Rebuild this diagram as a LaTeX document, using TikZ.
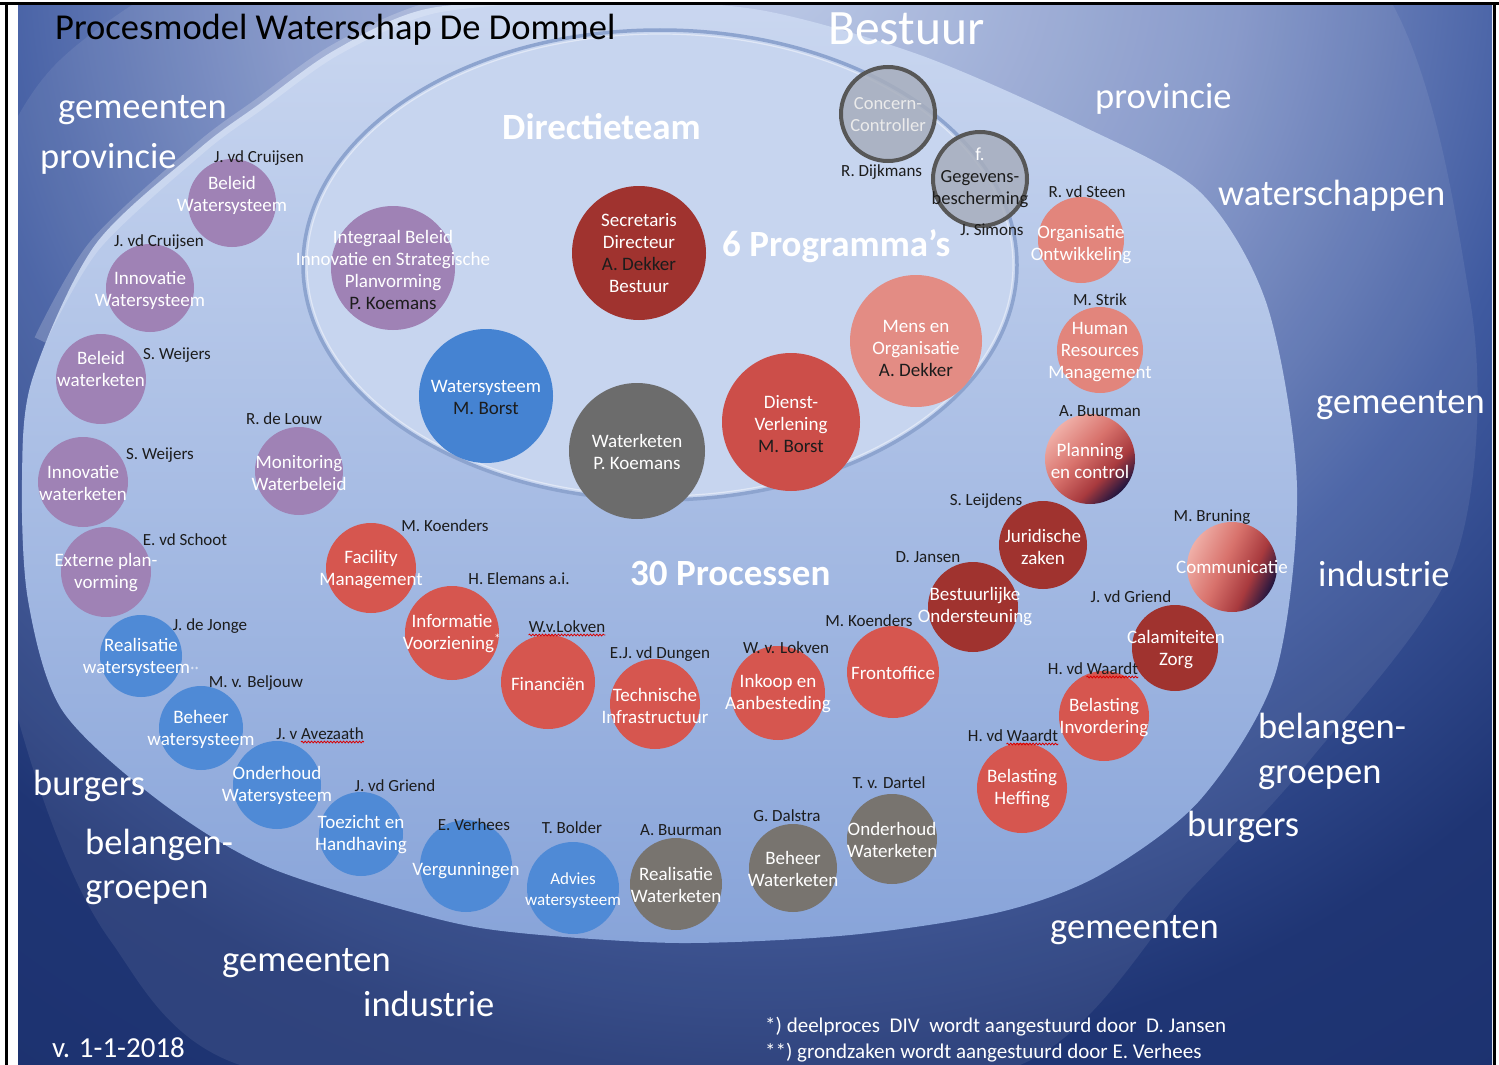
\documentclass[tikz,border=0pt]{standalone}
\usepackage{fontspec}
\setmainfont{Carlito}
\usetikzlibrary{decorations.pathmorphing}
\definecolor{bgA}{HTML}{B9C7E6}
\definecolor{bgB}{HTML}{7F92C6}
\definecolor{bgC}{HTML}{3F5AA0}
\definecolor{bgD}{HTML}{1F3574}
\definecolor{bgE}{HTML}{162A64}
\definecolor{lightTop}{HTML}{CAD7F0}
\definecolor{lightBot}{HTML}{88A4D9}
\definecolor{dirIn}{HTML}{C7D5EF}
\definecolor{dirMid}{HTML}{B2C5E8}
\definecolor{dirOut}{HTML}{9CB2DC}
\definecolor{dirEdge}{HTML}{8DA4CF}
\definecolor{cPurp}{HTML}{9F82B5}
\definecolor{cRed}{HTML}{D6564F}
\definecolor{cRedB}{HTML}{CC4E49}
\definecolor{cDRed}{HTML}{A0332F}
\definecolor{cSalm}{HTML}{E2857C}
\definecolor{cSalmB}{HTML}{E38C84}
\definecolor{cGray}{HTML}{78746F}
\definecolor{cGrayB}{HTML}{6C6C6C}
\definecolor{cBlue}{HTML}{4F8AD6}
\definecolor{cBlueB}{HTML}{4583D2}
\definecolor{cNavy}{HTML}{14123F}
\definecolor{gPink}{HTML}{F3B8B0}
\definecolor{gSalm}{HTML}{D8726C}
\definecolor{gRed}{HTML}{A83A3E}
\definecolor{cBest}{HTML}{A7AEBD}
\definecolor{cBestEdge}{HTML}{575757}
\definecolor{nameCol}{HTML}{1C1C1C}
\pgfdeclareradialshading{bgsh}{\pgfpoint{0bp}{0bp}}{color(0bp)=(bgA); color(12bp)=(bgB); color(20bp)=(bgC); color(28bp)=(bgD); color(50bp)=(bgE)}
\pgfdeclareradialshading{dirsh}{\pgfpoint{0bp}{0bp}}{color(0bp)=(dirIn); color(30bp)=(dirIn); color(46bp)=(dirMid); color(50bp)=(dirOut)}
\pgfdeclarehorizontalshading{gradsh}{100bp}{color(0bp)=(gPink); color(22bp)=(gPink); color(45bp)=(gSalm); color(62bp)=(gRed); color(76bp)=(cNavy); color(100bp)=(cNavy)}
\tikzset{
 blob/.style={circle, inner sep=0pt, minimum size=#1},
 ctext/.style={text=white, align=center, inner sep=0pt, font=\fontsize{19}{22}\selectfont},
 nm/.style={text=nameCol, inner sep=0pt, anchor=base, font=\fontsize{17}{20}\selectfont},
 big/.style={text=white, inner sep=0pt, anchor=base west, font=\fontsize{36.5}{40}\selectfont},
 head/.style={text=white, inner sep=0pt, anchor=base west, font=\fontsize{37}{40}\selectfont\bfseries},
 wave/.style={red!85!black, line width=0.8pt, decorate, decoration={snake, amplitude=0.9pt, segment length=3.2pt}},
 bcirc/.style={circle, inner sep=0pt, minimum size=94pt, fill=cBest, fill opacity=0.85, draw=cBestEdge, draw opacity=1, line width=4pt},
 gradc/.style={circle, inner sep=0pt, minimum size=#1, shade, shading=gradsh},
}
\begin{document}
\begin{tikzpicture}[x=1pt,y=-1pt]
\useasboundingbox (0,0) rectangle (1499,1065);
\fill[white] (0,0) rectangle (1499,1065);
\begin{scope}
 \clip (18,5.5) rectangle (1492,1065);
 \fill[bgE] (18,5.5) rectangle (1492,1065);
 \begin{pgfscope}
  \pgftransformreset
  \pgftransformshift{\pgfpoint{760pt}{50pt}}
  \pgftransformscale{40}
  \pgflowlevelsynccm
  \pgfuseshading{bgsh}
 \end{pgfscope}
 \fill[white, opacity=0.08] plot[smooth cycle] coordinates {(1470,300) (1455,560) (1310,760) (1190,890) (1020,1065) (640,1120) (240,1065) (110,940) (40,790) (-20,560) (-40,300) (60,60) (400,-120) (900,-150) (1350,-50)};
 \shade[top color=lightTop, bottom color=lightBot] plot[smooth cycle] coordinates {(431,8) (600,0) (760,10) (920,55) (1080,125) (1200,192) (1267,305) (1297,488) (1275,675) (1200,800) (1100,875) (1000,912) (850,935) (680,943) (520,933) (430,917) (268,867) (158,800) (62,710) (28,600) (22,480) (32,380) (95,245) (200,148) (258,105) (335,50)};
 \draw[white, opacity=0.2, line width=12pt] plot[smooth] coordinates {(40,340) (95,245) (200,148) (258,105) (335,50) (431,8) (560,-5)};
\end{scope}
% Directieteam ellipse
\shade[shading=dirsh] (660,265) ellipse [x radius=357pt, y radius=235pt];
\draw[dirEdge, line width=3.5pt] (660,265) ellipse [x radius=357pt, y radius=235pt];
\draw[white, opacity=0.45, line width=1.2pt] (660,265) ellipse [x radius=353pt, y radius=231pt];

% outside labels
\node[text=black, inner sep=0pt, anchor=base west, font=\fontsize{36.5}{40}\selectfont] (title) at (55,40) {Procesmodel Waterschap De Dommel};
\node[big] (g1) at (58,118) {gemeenten};
\node[big] (g2) at (40,168) {provincie};
\node[big] (g3) at (1095,108) {provincie};
\node[big] (g4) at (1218,205) {waterschappen};
\node[big] (g5) at (1316,413) {gemeenten};
\node[big] (g6) at (1318,586) {industrie};
\node[big] (g7) at (1258,738) {belangen-};
\node[big] (g8) at (1258,783) {groepen};
\node[big] (g9) at (1187,836) {burgers};
\node[big] (g10) at (1050,938) {gemeenten};
\node[big] (g11) at (33,795) {burgers};
\node[big] (g12) at (85,854) {belangen-};
\node[big] (g13) at (85,898) {groepen};
\node[big] (g14) at (222,971) {gemeenten};
\node[big] (g15) at (363,1016) {industrie};
\node[text=white, inner sep=0pt, anchor=base west, font=\fontsize{49.5}{52}\selectfont] (h1) at (828,45) {Bestuur};
\node[head] (h2) at (502,139) {Directieteam};
\node[head] (h3) at (722,256) {6 Programma’s};
\node[head] (h4) at (630,585) {30 Processen};
\node[text=white, inner sep=0pt, anchor=base west, font=\fontsize{29}{32}\selectfont] (ver) at (52,1057) {v. 1-1-2018};
\node[text=white, inner sep=0pt, anchor=base west, font=\fontsize{21}{24}\selectfont] (fn1) at (765,1032) {*) deelproces\ \ DIV\ \ wordt aangestuurd door\ \ D. Jansen};
\node[text=white, inner sep=0pt, anchor=base west, font=\fontsize{21}{24}\selectfont] (fn2) at (765,1058) {**) grondzaken wordt aangestuurd door E. Verhees};

% program circles
\node[blob=124pt, fill=cPurp] (p1) at (393,268) {};
\node[blob=134pt, fill=cDRed] (p2) at (639,253) {};
\node[blob=132pt, fill=cSalmB] (p3) at (916,341) {};
\node[blob=138pt, fill=cRedB] (p4) at (791,422) {};
\node[blob=134pt, fill=cBlueB] (p5) at (486,396) {};
\node[blob=136pt, fill=cGrayB] (p6) at (637,451) {};
\node[ctext] (tp1) at (393,270) {Integraal Beleid\\Innovatie en Strategische\\Planvorming\\\textcolor{nameCol}{P. Koemans}};
\node[ctext] (tp2) at (639,253) {Secretaris\\Directeur\\\textcolor{nameCol}{A. Dekker}\\Bestuur};
\node[ctext] (tp3) at (916,348) {Mens en\\Organisatie\\\textcolor{nameCol}{A. Dekker}};
\node[ctext] (tp4) at (791,424) {Dienst-\\Verlening\\\textcolor{nameCol}{M. Borst}};
\node[ctext] (tp5) at (486,397) {Watersysteem\\\textcolor{nameCol}{M. Borst}};
\node[ctext] (tp6) at (637,452) {Waterketen\\P. Koemans};

% Bestuur circles
\node[bcirc] (b1) at (888,114) {};
\node[nm, anchor=base west] (nb1) at (841,176) {R. Dijkmans};
\node[bcirc] (b2) at (980,179) {};
\node[ctext, font=\fontsize{18.5}{22}\selectfont, text=white!92!black] (tb1) at (888,115) {Concern-\\Controller};
\node[ctext, font=\fontsize{18.5}{22}\selectfont, text=nameCol] (tb2) at (980,178) {\textcolor{white}{f.}\\Gegevens-\\bescherming};
\node[nm] (nb2) at (992,235) {J. Simons};

% process circles
\node[blob=88pt, fill=cPurp] (c1) at (232,203) {};
\node[blob=88pt, fill=cPurp] (c2) at (150,288) {};
\node[blob=90pt, fill=cPurp] (c3) at (101,379) {};
\node[blob=90pt, fill=cPurp] (c4) at (83,482) {};
\node[blob=90pt, fill=cPurp] (c5) at (106,572) {};
\node[blob=88pt, fill=cPurp] (c6) at (299,471) {};
\node[blob=90pt, fill=cRed] (c7) at (371,568) {};
\node[blob=94pt, fill=cRed] (c8) at (452,633) {};
\node[blob=94pt, fill=cRed] (c9) at (548,682) {};
\node[blob=90pt, fill=cRed] (c10) at (655,704) {};
\node[blob=94pt, fill=cRed] (c11) at (778,693) {};
\node[blob=92pt, fill=cRed] (c12) at (893,672) {};
\node[blob=90pt, fill=cDRed] (c13) at (973,607) {};
\node[blob=88pt, fill=cDRed] (c14) at (1043,545) {};
\node[blob=86pt, fill=cDRed] (c15) at (1175,648) {};
\node[gradc=90pt, shading angle=-45] (c16) at (1090,459) {};
\node[gradc=90pt, shading angle=-25] (c17) at (1232,567) {};
\node[blob=86pt, fill=cSalm] (c18) at (1081,240) {};
\node[blob=86pt, fill=cSalm] (c19) at (1100,350) {};
\node[blob=90pt, fill=cRed] (c20) at (1104,716) {};
\node[blob=90pt, fill=cRed] (c21) at (1022,788) {};
\node[blob=90pt, fill=cGray] (c22) at (892,839) {};
\node[blob=88pt, fill=cGray] (c23) at (793,868) {};
\node[blob=92pt, fill=cGray] (c24) at (676,884) {};
\node[blob=92pt, fill=cBlue] (c25) at (573,888) {};
\node[blob=92pt, fill=cBlue] (c26) at (466,866) {};
\node[blob=84pt, fill=cBlue] (c27) at (361,834) {};
\node[blob=88pt, fill=cBlue] (c28) at (277,785) {};
\node[blob=84pt, fill=cBlue] (c29) at (201,728) {};
\node[blob=82pt, fill=cBlue] (c30) at (141,656) {};

\node[ctext] (t1) at (232,195) {Beleid\\Watersysteem};
\node[ctext] (t2) at (150,290) {Innovatie\\Watersysteem};
\node[ctext] (t3) at (101,369) {Beleid\\waterketen};
\node[ctext] (t4) at (83,483) {Innovatie\\waterketen};
\node[ctext] (t5) at (106,573) {Externe plan-\\vorming};
\node[ctext] (t6) at (299,473) {Monitoring\\Waterbeleid};
\node[ctext] (t7) at (371,570) {Facility\\Management};
\node[ctext] (t8) at (452,634) {Informatie\\Voorziening\textsuperscript{*}};
\node[ctext] (t9) at (548,684) {Financiën};
\node[ctext] (t10) at (655,706) {Technische\\Infrastructuur};
\node[ctext] (t11) at (778,694) {Inkoop en\\Aanbesteding};
\node[ctext] (t12) at (893,673) {Frontoffice};
\node[ctext] (t13) at (975,607) {Bestuurlijke\\Ondersteuning};
\node[ctext] (t14) at (1043,547) {Juridische\\zaken};
\node[ctext] (t15) at (1176,650) {Calamiteiten\\Zorg};
\node[ctext] (t16) at (1090,461) {Planning\\en control};
\node[ctext] (t17) at (1232,567) {Communicatie};
\node[ctext] (t18) at (1081,245) {Organisatie\\Ontwikkeling};
\node[ctext] (t19) at (1100,352) {Human\\Resources\\Management};
\node[ctext] (t20) at (1104,718) {Belasting\\Invordering};
\node[ctext] (t21) at (1022,789) {Belasting\\Heffing};
\node[ctext] (t22) at (892,840) {Onderhoud\\Waterketen};
\node[ctext] (t23) at (793,869) {Beheer\\Waterketen};
\node[ctext] (t24) at (676,885) {Realisatie\\Waterketen};
\node[ctext, font=\fontsize{17}{21}\selectfont] (t25) at (573,890) {Advies\\watersysteem};
\node[ctext] (t26) at (466,871) {Vergunningen};
\node[ctext] (t27) at (361,835) {Toezicht en\\Handhaving};
\node[ctext] (t28) at (277,785) {Onderhoud\\Watersysteem};
\node[ctext] (t29) at (201,729) {Beheer\\watersysteem};
\node[ctext] (t30) at (141,657) {Realisatie\\watersysteem{\fontsize{9}{9}\selectfont **}};

% name labels
\node[nm] (n1) at (259,162) {J. vd Cruijsen};
\node[nm] (n2) at (159,246) {J. vd Cruijsen};
\node[nm] (n3) at (177,359) {S. Weijers};
\node[nm] (n4) at (160,459) {S. Weijers};
\node[nm] (n5) at (185,545) {E. vd Schoot};
\node[nm] (n6) at (284,424) {R. de Louw};
\node[nm] (n7) at (445,531) {M. Koenders};
\node[nm] (n8) at (519,584) {H. Elemans a.i.};
\node[nm] (n9) at (567,632) {W.v.Lokven};
\node[nm] (n10) at (660,658) {E.J. vd Dungen};
\node[nm] (n11) at (786,653) {W. v. Lokven};
\node[nm] (n12) at (869,626) {M. Koenders};
\node[nm] (n13) at (928,562) {D. Jansen};
\node[nm] (n14) at (986,505) {S. Leijdens};
\node[nm] (n15) at (1131,602) {J. vd Griend};
\node[nm] (n16) at (1100,416) {A. Buurman};
\node[nm] (n17) at (1212,521) {M. Bruning};
\node[nm] (n18) at (1087,197) {R. vd Steen};
\node[nm] (n19) at (1100,305) {M. Strik};
\node[nm] (n20) at (1093,674) {H. vd Waardt};
\node[nm] (n21) at (1013,741) {H. vd Waardt};
\node[nm] (n22) at (889,788) {T. v. Dartel};
\node[nm] (n23) at (787,821) {G. Dalstra};
\node[nm] (n24) at (681,835) {A. Buurman};
\node[nm] (n25) at (572,833) {T. Bolder};
\node[nm] (n26) at (474,830) {E. Verhees};
\node[nm] (n27) at (395,791) {J. vd Griend};
\node[nm] (n28) at (320,739) {J. v Avezaath};
\node[nm] (n29) at (256,687) {M. v. Beljouw};
\node[nm] (n30) at (210,630) {J. de Jonge};

\draw[wave] ([yshift=-3pt]n9.base west) -- ([yshift=-3pt]n9.base east);
\draw[wave] ([xshift=-19pt,yshift=-3pt]n28.base) -- ([yshift=-3pt]n28.base east);
\draw[wave] ([xshift=-6.5pt,yshift=-3pt]n20.base) -- ([yshift=-3pt]n20.base east);
\draw[wave] ([xshift=-6.5pt,yshift=-3pt]n21.base) -- ([yshift=-3pt]n21.base east);

% frame
\draw[black, line width=3pt] (0,4) -- (1499,4);
\draw[black, line width=3.5pt] (6.5,4) -- (6.5,1065);
\draw[black, line width=3.5pt] (1494.5,4) -- (1494.5,1065);
\end{tikzpicture}
\end{document}
